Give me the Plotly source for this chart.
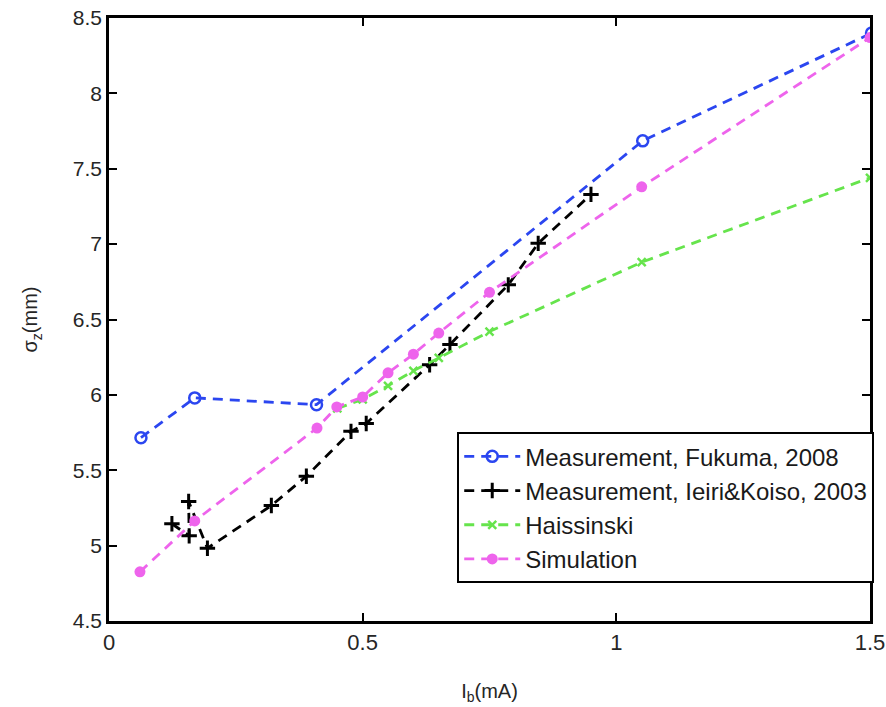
import plotly.graph_objects as go

fuk_x = [0.063, 0.169, 0.409, 1.052, 1.503]
fuk_y = [5.716, 5.98, 5.935, 7.685, 8.40]

iei_x = [0.124, 0.158, 0.157, 0.194, 0.32, 0.389, 0.477, 0.507, 0.632, 0.672, 0.787, 0.846, 0.95]
iei_y = [5.145, 5.065, 5.293, 4.983, 5.266, 5.46, 5.758, 5.81, 6.2, 6.334, 6.73, 7.005, 7.33]

hai_x = [0.45, 0.5, 0.55, 0.6, 0.65, 0.75, 1.05, 1.5]
hai_y = [5.91, 5.97, 6.06, 6.16, 6.245, 6.42, 6.88, 7.44]

sim_x = [0.061, 0.169, 0.41, 0.449, 0.5, 0.55, 0.6, 0.65, 0.75, 1.05, 1.5]
sim_y = [4.826, 5.164, 5.78, 5.92, 5.986, 6.146, 6.27, 6.41, 6.68, 7.38, 8.37]

x_ticks = [0, 0.5, 1, 1.5]
x_labels = ["0", "0.5", "1", "1.5"]
y_ticks = [4.5, 5, 5.5, 6, 6.5, 7, 7.5, 8, 8.5]
y_labels = ["4.5", "5", "5.5", "6", "6.5", "7", "7.5", "8", "8.5"]

font = "Liberation Sans, Arial, sans-serif"
dash = "10px,7px"

fig = go.Figure()
fig.add_trace(go.Scatter(
    x=fuk_x, y=fuk_y, mode="lines+markers", name="Measurement, Fukuma, 2008",
    line=dict(color="#2b46f0", width=2.8, dash=dash),
    marker=dict(symbol="circle-open", size=11, color="#2b46f0", line=dict(width=2.5, color="#2b46f0")),
))
fig.add_trace(go.Scatter(
    x=iei_x, y=iei_y, mode="lines+markers", name="Measurement, Ieiri&Koiso, 2003",
    line=dict(color="#000000", width=2.8, dash=dash),
    marker=dict(symbol="cross-thin", size=11, color="#000000", line=dict(width=3, color="#000000")),
))
fig.add_trace(go.Scatter(
    x=hai_x, y=hai_y, mode="lines+markers", name="Haissinski",
    line=dict(color="#66e44c", width=2.8, dash=dash),
    marker=dict(symbol="x-thin", size=8, color="#66e44c", line=dict(width=2.5, color="#66e44c")),
))
fig.add_trace(go.Scatter(
    x=sim_x, y=sim_y, mode="lines+markers", name="Simulation",
    line=dict(color="#ee64ec", width=2.8, dash=dash),
    marker=dict(symbol="circle", size=11, color="#ee64ec"),
))

fig.update_layout(
    width=886, height=707,
    margin=dict(l=109, r=15, t=18, b=86),
    paper_bgcolor="white", plot_bgcolor="white",
    font=dict(family=font, size=20, color="#262626"),
    showlegend=True,
    legend=dict(
        x=0.457, y=0.313, xanchor="left", yanchor="top",
        bgcolor="white", bordercolor="black", borderwidth=2,
        font=dict(family=font, size=24, color="#1a1a1a"),
        tracegroupgap=0, itemwidth=56,
    ),
    xaxis=dict(
        range=[0, 1.5], tickmode="array", tickvals=x_ticks, ticktext=x_labels,
        automargin=False, ticklabeloverflow="allow",
        showgrid=False, zeroline=False, showline=True, linecolor="black", linewidth=2.5,
        mirror="ticks", ticks="inside", ticklen=8, tickwidth=2, tickcolor="black",
        title=dict(text="I<sub>b</sub>(mA)", font=dict(family=font, size=20), standoff=30),
        tickfont=dict(family=font, size=22),
    ),
    yaxis=dict(
        range=[4.5, 8.5], tickmode="array", tickvals=y_ticks, ticktext=y_labels,
        automargin=False, ticklabeloverflow="allow",
        showgrid=False, zeroline=False, showline=True, linecolor="black", linewidth=2.5,
        mirror="ticks", ticks="inside", ticklen=8, tickwidth=2, tickcolor="black",
        title=dict(text="σ<sub>z</sub>(mm)", font=dict(family=font, size=20), standoff=30),
        tickfont=dict(family=font, size=21),
    ),
)

fig.write_html("out.html")
